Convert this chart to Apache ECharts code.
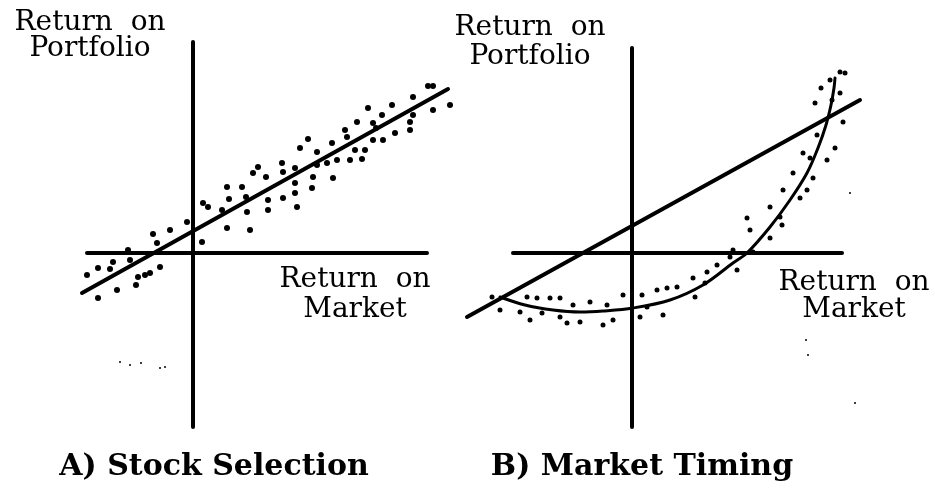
<!DOCTYPE html>
<html>
<head>
<meta charset="utf-8">
<script src="https://cdn.jsdelivr.net/npm/echarts@6/dist/echarts.min.js"></script>
<style>
  html, body { margin: 0; padding: 0; background: #fff; }
  #chart { width: 935px; height: 489px; }
</style>
</head>
<body>
<div id="chart"></div>
<script>
"use strict";

// ---------- data (market return, portfolio return) ----------
// A) stock selection: scatter around a straight line
const selDots = [
  [11.75, 8.35], [12.0, 8.35], [11.0, 7.8], [12.85, 7.4], [12.0, 7.15], [9.95, 7.4],
  [8.75, 7.25], [9.45, 6.9], [11.0, 6.9], [10.85, 6.55], [8.2, 6.55], [9.0, 6.5],
  [9.15, 6.25], [10.85, 6.15], [10.1, 6.0], [7.6, 6.15], [7.7, 5.8], [9.5, 5.65],
  [9.0, 5.65], [8.6, 5.15], [8.1, 5.15], [6.95, 5.5], [5.75, 5.7], [5.35, 5.25],
  [6.2, 5.05], [7.2, 4.65], [7.85, 4.65], [8.45, 4.7], [6.7, 4.5], [6.2, 4.4],
  [4.45, 4.5], [5.1, 4.25], [4.5, 4.05], [3.25, 4.3], [3.0, 4.0], [3.65, 3.8],
  [6.0, 3.8], [7.0, 3.75], [5.95, 3.25], [5.1, 3.5], [5.1, 3.0], [4.5, 2.75],
  [5.2, 2.3], [3.75, 2.65], [3.75, 2.15], [1.7, 3.3], [2.45, 3.3], [2.65, 2.8],
  [1.8, 2.7], [0.5, 2.5], [0.75, 2.3], [1.45, 2.15], [2.7, 2.05], [1.7, 1.25],
  [2.85, 1.15], [-0.3, 1.55], [-1.15, 1.15], [-2.0, 0.95], [-1.8, 0.5], [0.45, 0.55],
  [-3.25, 0.15], [-1.65, -0.7], [-2.15, -1.0], [-2.4, -1.1], [-2.75, -1.2], [-3.15, -0.35],
  [-4.0, -0.45], [-4.15, -0.8], [-4.75, -0.75], [-5.3, -1.1], [-3.8, -1.85], [-4.75, -2.25],
  [-2.85, -1.6]
];
const selFit = [[-5.55, -2.0], [12.75, 8.2]];
const selAxisX = [[-5.3, 0], [11.7, 0]];
const selAxisY = [[0, 10.55], [0, -8.7]];
const selSpecks = [[-3.65, -5.45], [-3.15, -5.6], [-2.6, -5.5], [-1.65, -5.75], [-1.4, -5.7]];

// B) market timing: scatter around a convex curve
const timDots = [
  [10.4, 9.05], [10.65, 9.0], [9.9, 8.65], [9.45, 8.25], [10.4, 8.0], [9.15, 7.5],
  [10.0, 7.65], [10.55, 6.55], [9.25, 5.9], [10.15, 5.25], [8.55, 5.0], [8.9, 4.75],
  [9.75, 4.65], [8.05, 4.0], [9.05, 3.75], [7.55, 3.15], [8.75, 3.15], [8.4, 2.75],
  [6.9, 2.3], [7.4, 1.8], [5.75, 1.75], [7.5, 1.4], [5.9, 1.15], [6.9, 0.75],
  [5.05, 0.15], [4.9, -0.2], [6.05, 0.05], [4.25, -0.6], [5.25, -0.85], [3.75, -0.95],
  [3.05, -1.25], [3.65, -1.5], [2.25, -1.7], [1.75, -1.75], [1.25, -1.85], [0.5, -2.1],
  [-0.45, -2.1], [3.15, -2.2], [0.75, -2.7], [1.55, -3.1], [0.4, -3.2], [-1.25, -2.6],
  [-2.1, -2.45], [-2.95, -2.6], [-3.6, -2.25], [-4.1, -2.25], [-4.75, -2.25], [-5.25, -2.2],
  [-5.6, -2.95], [-5.1, -3.35], [-4.5, -3.0], [-3.6, -3.2], [-3.25, -3.5], [-2.6, -3.45],
  [-1.45, -3.6], [-0.95, -3.35], [-6.6, -2.85], [-7.0, -2.2]
];
const timCurve = [
  [-6.6, -2.2], [-5.35, -2.6], [-3.95, -2.85], [-2.6, -2.95], [-1.45, -2.9], [0.05, -2.75],
  [1.9, -2.35], [3.55, -1.6], [5.05, -0.5], [5.75, 0.0], [6.9, 1.3], [7.9, 2.65],
  [8.75, 4.0], [9.3, 5.25], [9.7, 6.4], [9.95, 7.4], [10.1, 8.25], [10.15, 8.75]
];
const timFit = [[-8.25, -3.2], [11.4, 7.65]];
const timAxisX = [[-5.95, 0], [10.5, 0]];
const timAxisY = [[0, 10.25], [0, -8.7]];
const timSpecks = [[8.7, -4.35], [8.8, -5.1], [11.15, -7.5], [10.9, 3.0]];

const panelTitles = ["A) Stock Selection", "B) Market Timing"];
const yName = "Return  on\nPortfolio";
const xName = "Return  on\nMarket";

// ---------- chart ----------
const INK = "#000";
const chart = echarts.init(document.getElementById("chart"), null, { renderer: "canvas" });

const line = (data, g, w, smooth) => ({
  type: "line", data, xAxisIndex: g, yAxisIndex: g, showSymbol: false, symbol: "none",
  smooth: smooth || false, lineStyle: { color: INK, width: w, cap: "round", opacity: 1 }, silent: true, z: 3,
});
const dots = (data, g, size) => ({
  type: "scatter", data, xAxisIndex: g, yAxisIndex: g, symbolSize: size,
  itemStyle: { color: INK, opacity: 1 }, silent: true, z: 4,
});

const serif = "DejaVu Serif";
const label = (text, x, y, size, lh, bold) => ({
  type: "text", x, y, silent: true,
  style: {
    text, fill: INK, align: "center", verticalAlign: "middle", lineHeight: lh,
    font: (bold ? "bold " : "") + size + "px '" + serif + "'",
  },
});

chart.setOption({
  animation: false,
  backgroundColor: "#fff",
  grid: [
    { left: 53, right: 482, top: 33, bottom: 56 },
    { left: 452, right: 43, top: 33, bottom: 56 },
  ],
  xAxis: [
    { type: "value", gridIndex: 0, min: -7, max: 13, show: false },
    { type: "value", gridIndex: 1, min: -9, max: 13, show: false },
  ],
  yAxis: [
    { type: "value", gridIndex: 0, min: -9, max: 11, show: false },
    { type: "value", gridIndex: 1, min: -9, max: 11, show: false },
  ],
  series: [
    line(selAxisX, 0, 4), line(selAxisY, 0, 4), line(selFit, 0, 4),
    dots(selDots, 0, 6), dots(selSpecks, 0, 2),
    line(timAxisX, 1, 4), line(timAxisY, 1, 4), line(timFit, 1, 4),
    line(timCurve, 1, 3, 0.35),
    dots(timDots, 1, 5), dots(timSpecks, 1, 2),
  ],
  graphic: [
    label(yName, 90, 36, 28, 26),
    label(yName, 530, 42, 28, 29),
    label(xName, 355, 295, 28, 30),
    label(xName, 854, 296, 28, 27),
    label(panelTitles[0], 214, 467, 30, 34, true),
    label(panelTitles[1], 642, 467, 30, 34, true),
  ],
});
</script>
</body>
</html>
